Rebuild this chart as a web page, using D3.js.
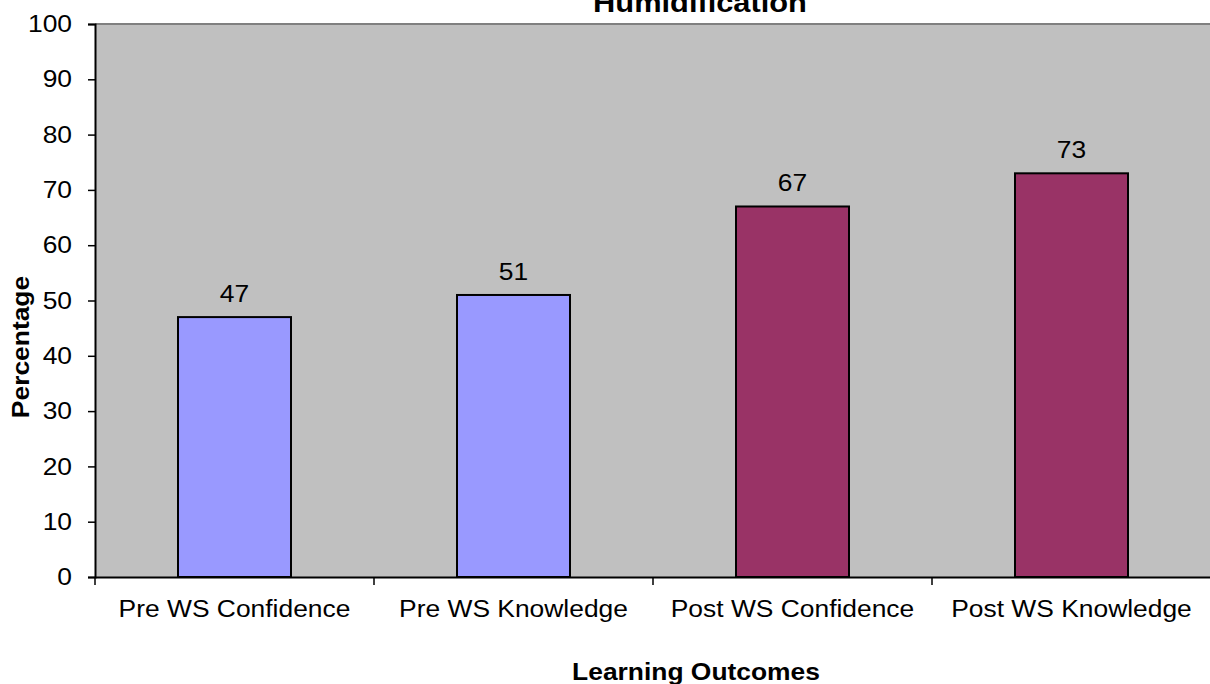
<!DOCTYPE html>
<html>
<head>
<meta charset="utf-8">
<script src="https://cdn.jsdelivr.net/npm/d3@7/dist/d3.min.js"></script>
<style>
  html, body { margin: 0; padding: 0; background: #ffffff; }
  svg { display: block; font-family: Arial, "Liberation Sans", sans-serif; }
</style>
</head>
<body>
<svg id="chart" width="1210" height="684"></svg>
<script>
const categories = ["Pre WS Confidence", "Pre WS Knowledge", "Post WS Confidence", "Post WS Knowledge"];
const values = [47, 51, 67, 73];
const barColors = ["#9999ff", "#9999ff", "#993366", "#993366"];
const yTicks = [0, 10, 20, 30, 40, 50, 60, 70, 80, 90, 100];
const titleText = "Humidification";
const xTitle = "Learning Outcomes";
const yTitle = "Percentage";

(function () {
const svg = d3.select("#chart");
const pLeft = 95, pRight = 1211, pTop = 24, pBottom = 577;
const sx = 1.1; // horizontal text stretch seen in the reference

const x = d3.scaleBand().domain(categories).range([pLeft, pRight]).paddingInner(0.595).paddingOuter(0.2975);
const xb = d3.scaleBand().domain(categories).range([pLeft, pRight]).padding(0);
const y = d3.scaleLinear().domain([0, 100]).range([pBottom, pTop]);

svg.append("rect").attr("x", pLeft).attr("y", pTop).attr("width", pRight - pLeft).attr("height", pBottom - pTop)
  .attr("fill", "#c0c0c0");
svg.append("line").attr("x1", pLeft).attr("x2", pRight).attr("y1", pTop).attr("y2", pTop)
  .attr("stroke", "#808080").attr("stroke-width", 2);

svg.selectAll("rect.bar").data(values).enter().append("rect").attr("class", "bar")
  .attr("x", (d, i) => x(categories[i]))
  .attr("y", d => y(d))
  .attr("width", x.bandwidth())
  .attr("height", d => pBottom - y(d))
  .attr("fill", (d, i) => barColors[i])
  .attr("stroke", "#000").attr("stroke-width", 2);

svg.selectAll("text.val").data(values).enter().append("text").attr("class", "val")
  .attr("transform", (d, i) => `translate(${x(categories[i]) + x.bandwidth() / 2},${y(d) - 15}) scale(${sx},1)`)
  .attr("text-anchor", "middle").attr("font-size", 24).attr("fill", "#000")
  .text(d => d);

const yAxis = d3.axisLeft(y).tickValues(yTicks).tickSize(7).tickPadding(16);
const yg = svg.append("g").attr("transform", `translate(${pLeft},0)`).call(yAxis);
yg.select(".domain").attr("stroke", "#000").attr("stroke-width", 2);
yg.selectAll(".tick line").attr("stroke", "#000").attr("stroke-width", 1.5);
yg.selectAll(".tick text").attr("font-size", 24).attr("fill", "#000")
  .attr("font-family", "Arial, 'Liberation Sans', sans-serif")
  .attr("transform", `translate(-23,0) scale(${sx},1) translate(23,0)`);

const xAxis = d3.axisBottom(xb).tickSize(0).tickPadding(0);
const xg = svg.append("g").attr("transform", `translate(0,${pBottom})`).call(xAxis);
xg.select(".domain").attr("stroke", "#000").attr("stroke-width", 2);
xg.selectAll(".tick text").attr("font-size", 24).attr("fill", "#000")
  .attr("font-family", "Arial, 'Liberation Sans', sans-serif").attr("dy", 0).attr("y", 0)
  .attr("transform", `translate(0,40) scale(${sx},1)`);
const bounds = categories.map(c => xb(c)).concat([xb(categories[categories.length - 1]) + xb.bandwidth()]);
svg.selectAll("line.xt").data(bounds).enter().append("line").attr("class", "xt")
  .attr("x1", d => d).attr("x2", d => d).attr("y1", pBottom).attr("y2", pBottom + 8)
  .attr("stroke", "#000").attr("stroke-width", 1.5);

svg.append("text").attr("transform", `translate(700,12) scale(${sx},1)`).attr("text-anchor", "middle")
  .attr("font-size", 28).attr("font-weight", "bold").text(titleText);

svg.append("text").attr("transform", `translate(696,680) scale(${sx},1)`).attr("text-anchor", "middle")
  .attr("font-size", 24).attr("font-weight", "bold").text(xTitle);
svg.append("text").attr("transform", `translate(29,347) rotate(-90) scale(${sx},1)`).attr("text-anchor", "middle")
  .attr("font-size", 24).attr("font-weight", "bold").text(yTitle);
})();
</script>
</body>
</html>
